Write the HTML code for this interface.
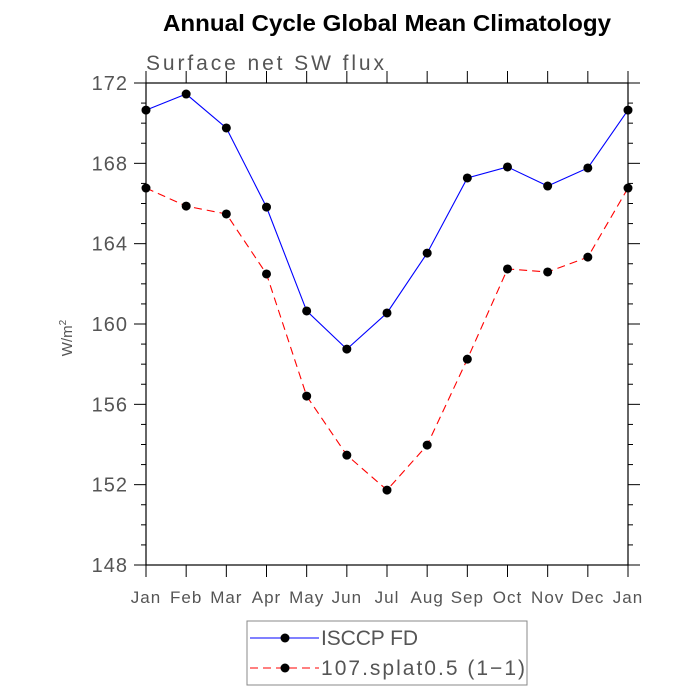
<!DOCTYPE html>
<html><head><meta charset="utf-8"><style>body{margin:0;background:#fff}svg{display:block}</style></head>
<body>
<svg width="700" height="700" viewBox="0 0 700 700" font-family="Liberation Sans, sans-serif">
<text x="387" y="31" text-anchor="middle" font-size="23" font-weight="bold" textLength="448" lengthAdjust="spacingAndGlyphs">Annual Cycle Global Mean Climatology</text>
<text x="146" y="70" font-size="21" fill="#555" textLength="238" lengthAdjust="spacing">Surface net SW flux</text>
<text transform="translate(72,338) rotate(-90)" text-anchor="middle" font-size="15" fill="#555">W/m<tspan font-size="10" dy="-6">2</tspan></text>
<g id="axes"></g>
<g id="marks"></g>
<g>
<rect x="247" y="621" width="280" height="64" fill="none" stroke="#888"/>
<line x1="250" y1="638" x2="319" y2="638" stroke="#0000ff"/>
<circle cx="285" cy="638" r="4.5"/>
<text x="321" y="645" font-size="21" fill="#555" textLength="97" lengthAdjust="spacing">ISCCP FD</text>
<line x1="250" y1="668" x2="319" y2="668" stroke="#ff0000" stroke-dasharray="8,5"/>
<circle cx="285" cy="668" r="4.5"/>
<text x="321" y="675" font-size="21" fill="#555" textLength="204" lengthAdjust="spacing">107.splat0.5 (1−1)</text>
</g>
</svg>
<script>
const months=["Jan","Feb","Mar","Apr","May","Jun","Jul","Aug","Sep","Oct","Nov","Dec","Jan"];
const isccp=[170.65,171.45,169.76,165.82,160.65,158.75,160.55,163.53,167.27,167.82,166.87,167.77,170.65];
const model=[166.77,165.87,165.48,162.49,156.41,153.47,151.73,153.97,158.25,162.74,162.59,163.33,166.77];
const yTicks=[148,152,156,160,164,168,172];
const L=146,R=628,T=83,B=565,ymin=148,ymax=172;
const xs=i=>L+(R-L)*i/(months.length-1);
const ys=v=>B-(B-T)*(v-ymin)/(ymax-ymin);
const NS="http://www.w3.org/2000/svg";
function mk(t,a,p){const e=document.createElementNS(NS,t);for(const k in a)e.setAttribute(k,a[k]);p.appendChild(e);return e;}
const ax=document.getElementById('axes'),mg=document.getElementById('marks');
const fr=mk('rect',{x:L,y:T,width:R-L,height:B-T,fill:'none',stroke:'#000','stroke-width':1.2},ax);


for(let v=ymin;v<=ymax;v++){const maj=(v-ymin)%4===0,len=maj?12:5,y=ys(v);
 const a=mk('line',{x1:L-len,y1:y,x2:L,y2:y,stroke:'#000'},ax);
 
 
 const b=mk('line',{x1:R,y1:y,x2:R+len,y2:y,stroke:'#000'},ax);
 
 }
yTicks.forEach(v=>{const t=mk('text',{x:L-18,y:ys(v)+7,'text-anchor':'end','font-size':20,fill:'#555','letter-spacing':1},ax);t.textContent=v;
 
 });
months.forEach((m,i)=>{const x=xs(i);
 const a=mk('line',{x1:x,y1:B,x2:x,y2:B+12,stroke:'#000'},ax);
 
 
 const b=mk('line',{x1:x,y1:T-12,x2:x,y2:T,stroke:'#000'},ax);
 
 
 const t=mk('text',{x:x,y:603,'text-anchor':'middle','font-size':17,fill:'#555','letter-spacing':1},ax);t.textContent=m;
 
 });
function series(d,col,dash,name){
 const p=mk('polyline',{points:d.map((v,i)=>xs(i)+','+ys(v)).join(' '),fill:'none',stroke:col,'stroke-width':1.1},mg);
 if(dash)p.setAttribute('stroke-dasharray',dash);
 
 
 d.forEach((v,i)=>{const c=mk('circle',{cx:xs(i),cy:ys(v),r:4.5,fill:'#000'},mg);
  
  });
}
series(isccp,'#0000ff',null,'isccp');
series(model,'#ff0000','8,5','model');
</script>
</body></html>
